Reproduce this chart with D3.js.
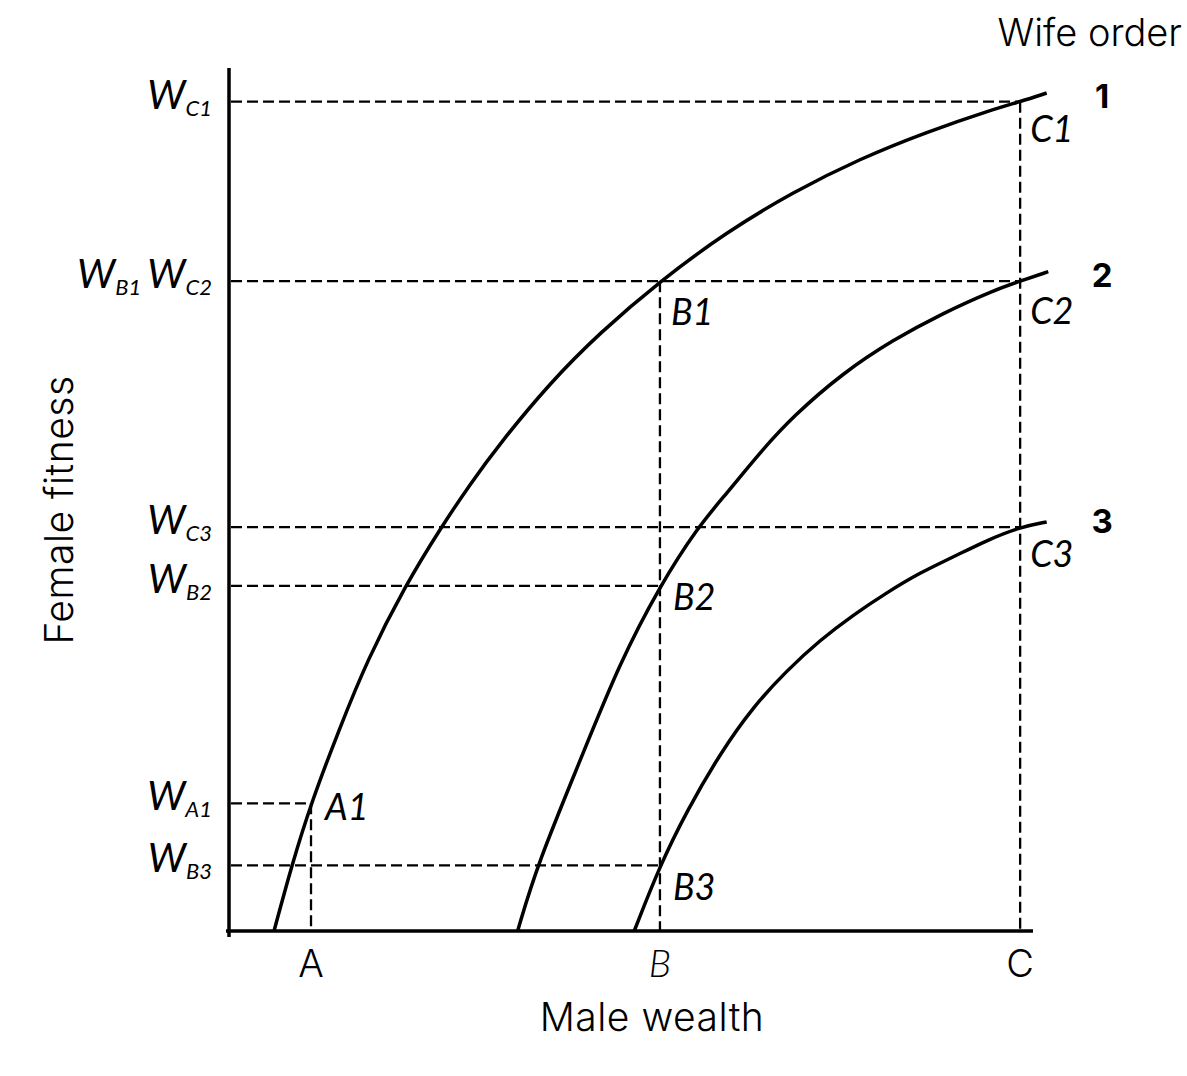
<!DOCTYPE html>
<html>
<head>
<meta charset="utf-8">
<script src="https://cdn.jsdelivr.net/npm/d3@7"></script>
<style>
  body { margin: 0; background: #fff; }
  svg text { font-family: Inter, Lato, "Noto Sans", sans-serif; fill: #000; }
  svg text.it { font-family: Lato, "Noto Sans", sans-serif; font-style: italic; }
</style>
</head>
<body>
<svg class="chart"></svg>
<script>
// DATA ////////////////////////////////////////
const xTickNames = ["A", "B", "C"];
const xTickValues = [10.2, 53.6, 98.4];

const levelNames = [["C1"], ["B1", "C2"], ["C3"], ["B2"], ["A1"], ["B3"]];
const levelValues = [96.1, 75.3, 46.8, 40.0, 14.8, 7.6];

// marked points: which male (x tick) and which fitness level
const pointNames = ["A1", "B1", "B2", "B3", "C1", "C2", "C3"];
const pointMale = ["A", "B", "B", "B", "C", "C", "C"];
const pointLevel = [14.8, 75.3, 40.0, 7.6, 96.1, 75.3, 46.8];

const wifeOrder = ["1", "2", "3"];
const wifeOrderLevel = [96.1, 75.3, 46.8];

// fitness curves, one per wife order
const curve1X = [5.6, 7.8, 10.2, 13.8, 17.2, 21.9, 26.4, 30.0, 33.7, 39.9, 46.1, 53.6,
  61.9, 70.1, 78.5, 86.8, 95.0, 98.4, 101.7];
const curve1Y = [0, 7.6, 14.8, 23.6, 31.4, 40.0, 46.8, 51.8, 56.5, 63.5, 69.3, 75.3,
  81.0, 85.6, 89.5, 92.6, 95.2, 96.1, 97.1];
const curve2X = [35.9, 38.3, 43.7, 48.6, 53.6, 58.3, 61.9, 66.0, 70.1, 76.4, 82.6, 88.8,
  95.0, 98.4, 101.9];
const curve2Y = [0, 7.6, 19.8, 31.1, 40.0, 46.8, 50.7, 55.4, 59.6, 64.7, 68.5, 71.6,
  74.2, 75.3, 76.4];
const curve3X = [50.4, 53.6, 57.0, 61.1, 65.2, 69.4, 73.5, 77.6, 81.8, 85.9, 90.0, 94.3,
  98.4, 101.7];
const curve3Y = [0, 7.6, 14.0, 20.6, 26.0, 30.2, 33.7, 36.6, 39.2, 41.5, 43.3, 45.3,
  46.8, 47.4];

// LAYOUT //////////////////////////////////////
const W = 1187, H = 1076;
const svg = d3.select(".chart").attr("width", W).attr("height", H);

const x = d3.scaleLinear().domain([0, 100]).range([229, 1033]);
const y = d3.scaleLinear().domain([0, 100]).range([931, 68]);
const tickX = d3.scaleOrdinal().domain(xTickNames).range(xTickValues);

// label offsets from their point (px)
const pointLabelOffset = {
  A1: [14, 17], B1: [11, 44], B2: [13, 24], B3: [13, 35],
  C1: [10, 40], C2: [10, 43], C3: [10, 40],
};

const dash = "11,5";

// DASHED GUIDES ///////////////////////////////
const points = pointNames.map((n, i) => ({
  name: n, xv: tickX(pointMale[i]), yv: pointLevel[i],
}));

const guides = svg.append("g")
  .attr("stroke", "#000")
  .attr("stroke-width", 2.3)
  .attr("stroke-dasharray", dash)
  .attr("fill", "none");

// horizontal: from the axis to the farthest point on that level
levelValues.forEach((v) => {
  const far = d3.max(points.filter((p) => p.yv === v), (p) => p.xv);
  guides.append("line")
    .attr("x1", x(0) + 2).attr("x2", x(far))
    .attr("y1", y(v)).attr("y2", y(v));
});

// vertical: from the highest point of each male down to the axis
xTickNames.forEach((n) => {
  const top = d3.max(points.filter((p) => p.xv === tickX(n)), (p) => p.yv);
  guides.append("line")
    .attr("x1", x(tickX(n))).attr("x2", x(tickX(n)))
    .attr("y1", y(top)).attr("y2", y(0));
});

// AXES ////////////////////////////////////////
const axes = svg.append("g").attr("stroke", "#000").attr("stroke-width", 3.5);
axes.append("line")
  .attr("x1", x(0)).attr("x2", x(0))
  .attr("y1", y(100)).attr("y2", y(0) + 6);
axes.append("line")
  .attr("x1", x(0) - 3).attr("x2", x(100))
  .attr("y1", y(0)).attr("y2", y(0));

// CURVES //////////////////////////////////////
const line = d3.line()
  .x((d) => x(d[0]))
  .y((d) => y(d[1]))
  .curve(d3.curveBasis);

[[curve1X, curve1Y], [curve2X, curve2Y], [curve3X, curve3Y]].forEach(([cx, cy]) => {
  svg.append("path")
    .attr("d", line(d3.zip(cx, cy)))
    .attr("fill", "none")
    .attr("stroke", "#000")
    .attr("stroke-width", 3.5);
});

// LABELS //////////////////////////////////////
// y levels: W with subscripts
levelValues.forEach((v, i) => {
  const t = svg.append("text")
    .attr("class", "it")
    .attr("x", x(0) - 17)
    .attr("y", y(v) + 7)
    .attr("text-anchor", "end");
  levelNames[i].forEach((n, j) => {
    t.append("tspan")
      .attr("dx", j === 0 ? 0 : 6)
      .attr("dy", j === 0 ? 0 : -7)
      .style("font-size", "40px")
      .text("W");
    t.append("tspan")
      .attr("dx", 0)
      .attr("dy", 7)
      .style("font-size", "22px")
      .text(n);
  });
});

// point labels
svg.selectAll(".pt")
  .data(points)
  .join("text")
  .attr("class", "pt it")
  .attr("x", (d) => x(d.xv) + pointLabelOffset[d.name][0])
  .attr("y", (d) => y(d.yv) + pointLabelOffset[d.name][1])
  .style("font-size", "36px")
  .text((d) => d.name);

// x tick labels
svg.selectAll(".xt")
  .data(xTickNames)
  .join("text")
  .attr("class", (d) => (d === "B" ? "xt it" : "xt"))
  .attr("x", (d) => x(tickX(d)))
  .attr("y", y(0) + 46)
  .attr("text-anchor", "middle")
  .style("font-size", "38px")
  .style("font-weight", 300)
  .text((d) => d);

// wife order numbers
svg.selectAll(".wo")
  .data(wifeOrder)
  .join("text")
  .attr("class", "wo")
  .attr("x", x(tickX("C")) + 82)
  .attr("y", (d, i) => y(wifeOrderLevel[i]) + 6)
  .attr("text-anchor", "middle")
  .style("font-size", "33px")
  .style("font-weight", "bold")
  .text((d) => d);

const title = (s) => s
  .style("font-size", "39px")
  .style("font-weight", 300)
  .style("letter-spacing", "0.5px");

svg.append("text")
  .attr("x", 1182).attr("y", 46)
  .attr("text-anchor", "end")
  .style("font-size", "38px")
  .style("font-weight", 300)
  .text("Wife order");

svg.append("text")
  .attr("x", 652).attr("y", 1031)
  .attr("text-anchor", "middle")
  .call(title)
  .text("Male wealth");

svg.append("text")
  .attr("transform", "translate(73, 510) rotate(-90)")
  .attr("text-anchor", "middle")
  .call(title)
  .text("Female fitness");
</script>
</body>
</html>
